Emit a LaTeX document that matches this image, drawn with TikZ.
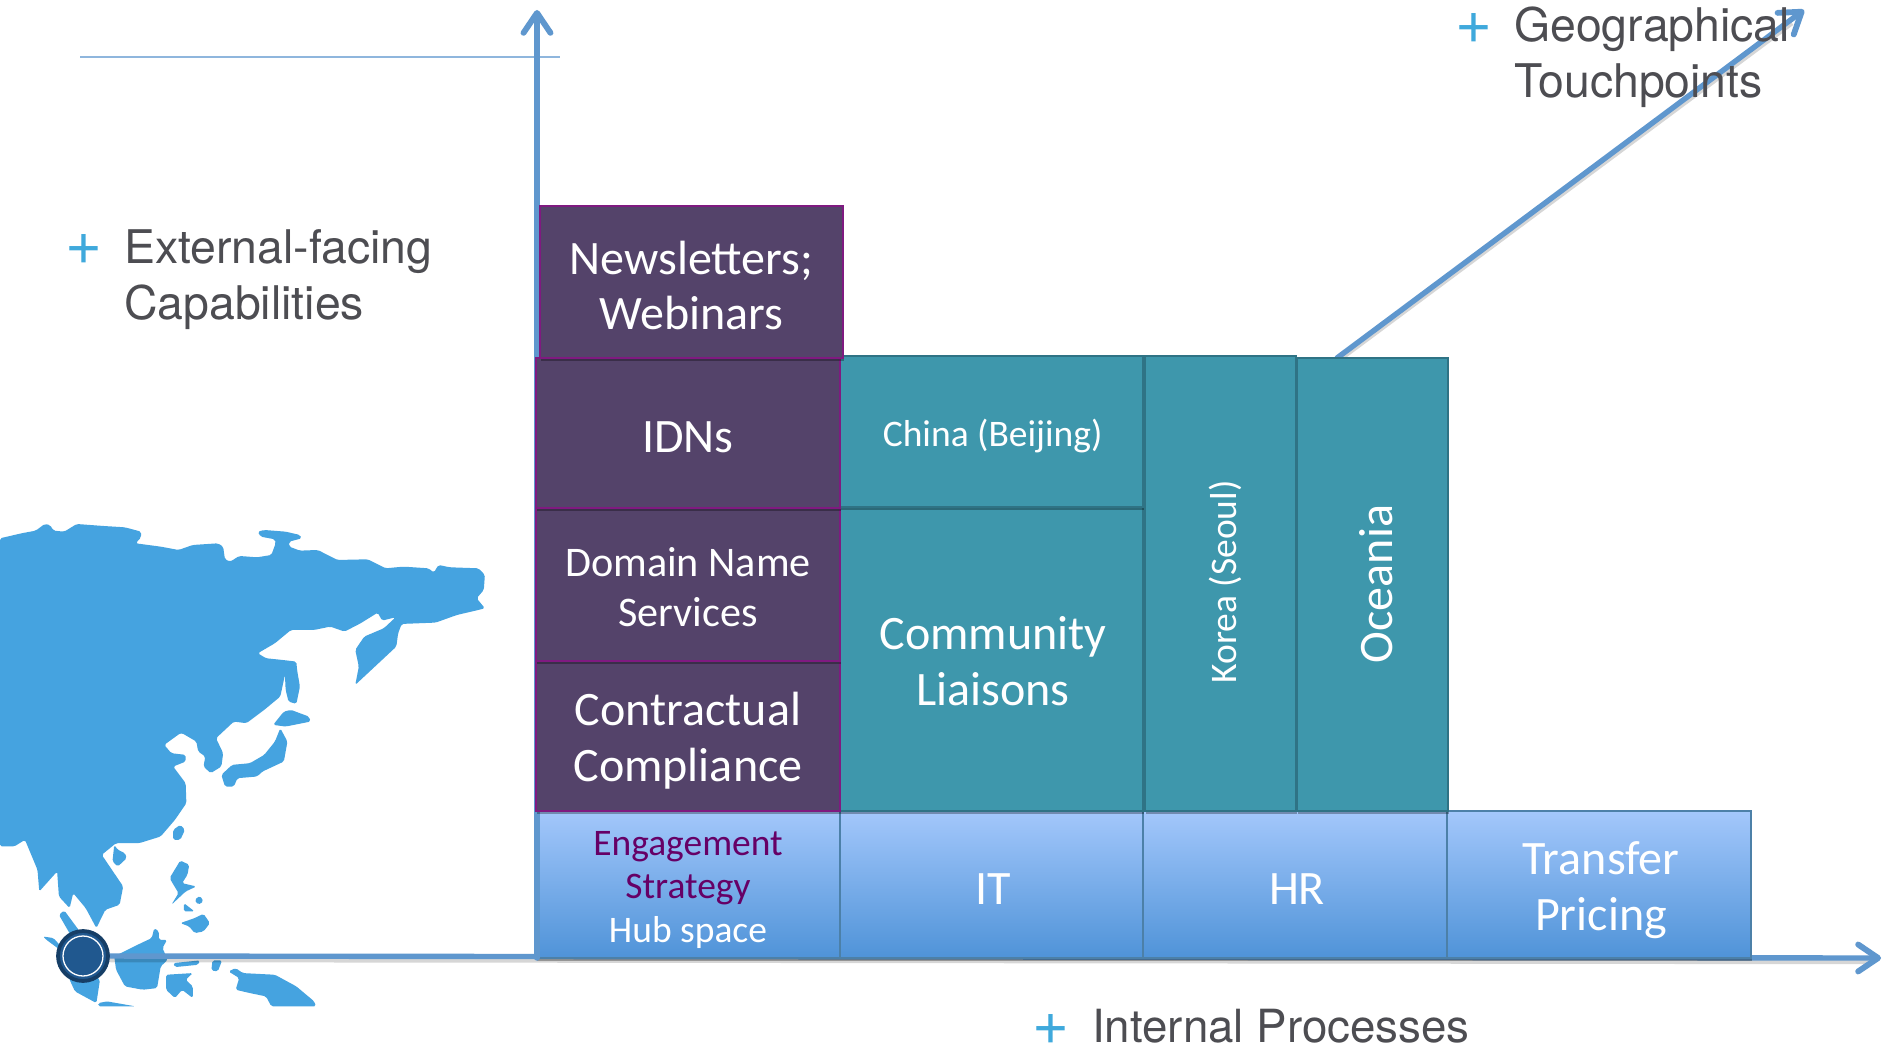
\documentclass[tikz,border=0pt]{standalone}
\usepackage{fontspec}
\setmainfont{Carlito}
\newfontfamily\helv{TeX Gyre Heros}
\usetikzlibrary{arrows.meta,shadows}
\definecolor{mapblue}{HTML}{45A3E0}
\definecolor{axisblue}{HTML}{5F97CE}
\definecolor{plum}{HTML}{54436A}
\definecolor{plumedge}{HTML}{7F1A80}
\definecolor{teal2}{HTML}{3E97AC}
\definecolor{tealedge}{HTML}{2F7385}
\definecolor{gradtop}{HTML}{A3C7FB}
\definecolor{gradbot}{HTML}{4F93D8}
\definecolor{gradedge}{HTML}{4C80A8}
\definecolor{labelgrey}{HTML}{4D4D52}
\definecolor{plusblue}{HTML}{3FA9DC}
\definecolor{hubdark}{HTML}{20588F}
\definecolor{hubring}{HTML}{163E66}
\definecolor{engpurple}{HTML}{660066}
\tikzset{
  cellbox/.style={anchor=north west,inner sep=0pt,outer sep=0pt,
    drop shadow={shadow xshift=1pt,shadow yshift=-2.5pt,opacity=.3,fill=black}},
  plumbox/.style={cellbox,fill=plum,draw=plumedge,line width=1.8pt},
  tealbox/.style={cellbox,fill=teal2,draw=tealedge,line width=1.2pt},
  gradbox/.style={cellbox,top color=gradtop,bottom color=gradbot,draw=gradedge,line width=1.2pt},
  celltext/.style={inner sep=0pt,align=center,text=white},
  big/.style={font=\fontsize{41}{47.6}\selectfont},
  mid/.style={font=\fontsize{36}{43}\selectfont},
  small/.style={font=\fontsize{32}{37}\selectfont},
  axisline/.style={draw=axisblue,line width=4.6pt,line cap=round,-{Straight Barb[length=17pt,width=23pt,line width=5pt,round]}},
  axisshadow/.style={draw=black,opacity=.16,line width=4.6pt},
  glabel/.style={inner sep=0pt,text=labelgrey,align=left,anchor=north west,
    font=\helv\fontsize{39.6}{47.8}\selectfont},
  plusmark/.style={inner sep=0pt,text=plusblue,font=\helv\fontsize{54}{54}\selectfont},
  landmass/.style={fill=mapblue,draw=none,rounded corners=1.5pt},
}
\newcommand{\cell}[8]{\node[#1,minimum width={(#6-#4)*0.03cm},minimum height={(#7-#5)*0.03cm}] (#3) at (#4,#5) {};
  \node[celltext,#2] (#3txt) at ([yshift=-3.8pt]#3.center) {#8};}
\begin{document}
\begin{tikzpicture}[x=0.03cm,y=-0.03cm]
\useasboundingbox (0,0) rectangle (1884,1048);
\fill[white] (0,0) rectangle (1884,1048);
% map
\begin{scope}[shift={(0,500)},x=0.010714cm,y=-0.01cm]
\clip (0,0) rectangle (1600,1520);
\fill[landmass] (0,115)--(60,100)--(100,92)--(125,72)--(140,75)--(150,92)--(180,95)--(215,72)--(290,78)--(350,82)--(395,95)--(395,112)--(380,130)--(450,140)--(500,150)--(540,135)--(610,130)--(625,140)--(630,178)--(645,185)--(670,168)--(720,172)--(760,165)--(772,130)--(770,118)--(730,110)--(722,95)--(740,90)--(800,95)--(840,105)--(845,115)--(810,125)--(810,140)--(840,152)--(890,150)--(945,180)--(1030,178)--(1080,205)--(1130,200)--(1200,205)--(1215,218)--(1228,195)--(1260,202)--(1340,205)--(1358,225)--(1355,270)--(1335,295)--(1358,325)--(1340,330)--(1280,345)--(1220,368)--(1125,372)--(1115,400)--(1110,440)--(1060,490)--(995,555)--(1005,500)--(995,450)--(1020,410)--(1075,385)--(1108,352)--(1070,362)--(1058,338)--(1010,370)--(965,395)--(925,380)--(880,390)--(815,390)--(770,430)--(722,460)--(745,475)--(790,480)--(830,485)--(832,510)--(840,560)--(830,612)--(808,605)--(800,570)--(798,525)--(785,590)--(740,630)--(690,670)--(655,665)--(630,690)--(605,715)--(625,760)--(620,800)--(590,820)--(570,800)--(575,770)--(555,755)--(550,725)--(510,700)--(505,700)--(460,735)--(480,760)--(520,765)--(520,785)--(485,800)--(520,850)--(522,910)--(490,960)--(450,1010)--(390,1030)--(325,1030)--(285,1065)--(345,1160)--(335,1215)--(295,1230)--(270,1285)--(240,1225)--(205,1180)--(195,1225)--(165,1190)--(160,1115)--(110,1175)--(105,1110)--(70,1020)--(40,1040)--(0,1040)--cycle;
\fill[landmass] (765,675)--(795,635)--(815,630)--(865,650)--(870,665)--(800,680)--cycle;
\fill[landmass] (785,685)--(805,725)--(795,785)--(735,815)--(720,830)--(665,835)--(655,860)--(630,860)--(620,825)--(650,795)--(700,790)--(740,765)--(770,725)--cycle;
\fill[landmass] (505,975)--(518,990)--(505,1020)--(485,1020)--(485,990)--cycle;
\fill[landmass] (320,1035)--(330,1050)--(350,1060)--(355,1075)--(330,1100)--(315,1085)--cycle;
\fill[landmass] (505,1082)--(530,1095)--(525,1125)--(510,1150)--(550,1160)--(520,1175)--(480,1215)--(500,1180)--(475,1135)--cycle;
\fill[landmass] (515,1210)--(545,1235)--(515,1235)--cycle;
\fill[landmass] (560,1188)--(570,1205)--(555,1215)--(545,1200)--cycle;
\fill[landmass] (505,1270)--(545,1255)--(570,1242)--(588,1270)--(570,1295)--(545,1300)--(530,1280)--cycle;
\fill[landmass] (165,1245)--(180,1232)--(220,1290)--(235,1320)--(200,1310)--cycle;
\fill[landmass] (120,1310)--(150,1315)--(175,1345)--(195,1440)--(210,1475)--(270,1510)--(280,1440)--(230,1400)--(130,1320)--cycle;
\fill[landmass] (275,1510)--(300,1505)--(380,1520)--(275,1520)--cycle;
\fill[landmass] (320,1370)--(395,1330)--(425,1315)--(432,1285)--(445,1295)--(445,1320)--(468,1320)--(455,1345)--(470,1380)--(450,1400)--(440,1465)--(400,1470)--(350,1460)--(325,1410)--cycle;
\fill[landmass] (465,1425)--(540,1420)--(520,1440)--(540,1460)--(540,1495)--(510,1470)--(490,1495)--(465,1470)--cycle;
\fill[landmass] (485,1390)--(560,1382)--(555,1395)--(490,1402)--cycle;
\fill[landmass] (595,1382)--(622,1382)--(610,1415)--(592,1412)--cycle;
\fill[landmass] (640,1415)--(660,1405)--(680,1420)--(770,1425)--(830,1460)--(880,1505)--(885,1520)--(760,1520)--(745,1490)--(700,1480)--(660,1470)--(670,1435)--cycle;
\end{scope}
% anchors
\coordinate (xend) at (1881,958);
\coordinate (yend) at (537,10);
\coordinate (origin) at (537,958);
\coordinate (diagstart) at (1337,358);
\coordinate (diagend) at (1804,10);
\coordinate (ruleL) at (80,57);
\coordinate (ruleR) at (560,57);
\coordinate (hubc) at (83,956);
\draw[draw=axisblue!70!white,line width=1.8pt] (ruleL) -- (ruleR);
% axes
\draw[axisshadow,transform canvas={yshift=-3pt}] (hubc) -- (1870,958);
\draw[axisline] (hubc) -- (xend);
% gradient row
\cell{gradbox}{big,xshift=1.7pt,yshift=-1pt}{transfer}{1447}{811}{1751}{958}{Transfer\\Pricing}
\cell{gradbox}{big,xshift=1.7pt}{hr}{1143}{811}{1447}{958}{HR}
\cell{gradbox}{big,xshift=1.2pt}{it}{840}{811}{1143}{958}{IT}
\node[gradbox,minimum width={304*0.03cm},minimum height={147*0.03cm}] (engage) at (536,811) {};
\node[celltext,text=engpurple,small] (engtxt) at (688,868) {Engagement\\Strategy};
\node[celltext,small] (hubtxt) at (688,932) {Hub space};
% vertical and diagonal
\draw[axisshadow,transform canvas={xshift=1.5pt,yshift=-1.5pt}] (diagstart) -- (1790,21);
\draw[axisline] (diagstart) -- (diagend);
\draw[axisline] (origin) -- (yend);
% teal
\node[tealbox,minimum width={151*0.03cm},minimum height={453*0.03cm}] (oceania) at (1297,358) {};
\node[tealbox,minimum width={151*0.03cm},minimum height={455*0.03cm}] (korea) at (1145,356) {};
\node[tealbox,minimum width={303*0.03cm},minimum height={304*0.03cm}] (community) at (840,507) {};
\node[celltext,big] (communitytxt) at (993,661) {Community\\Liaisons};
\cell{tealbox}{small,xshift=1pt}{china}{840}{356}{1143}{507}{China (Beijing)}
\node[celltext,rotate=90,small] (koreatxt) at (1225,582) {Korea (Seoul)};
\node[celltext,rotate=90,big] (oceaniatxt) at (1376,584) {Oceania};
% plum
\cell{plumbox}{big}{contract}{536}{661}{840}{811}{Contractual\\Compliance}
\cell{plumbox}{mid,yshift=1.7pt}{domain}{536}{508}{840}{661}{Domain Name\\Services}
\cell{plumbox}{big}{idns}{536}{358}{840}{508}{IDNs}
\cell{plumbox}{big,yshift=.8pt}{news}{540}{206}{843}{358}{Newsletters;\\Webinars}
% hub marker
\node[circle,minimum size=1.5cm,inner sep=0pt,fill=hubdark,draw=hubring,line width=3.2pt] (hub) at (hubc) {};
\draw[white,line width=1.1pt] (hubc) circle (0.6cm);
% labels
\node[plusmark] (plusA) at (84,250) {+};
\node[glabel] (ext) at (124,229) {External-facing\\Capabilities};
\node[plusmark] (plusB) at (1474,29) {+};
\node[glabel] (geo) at (1514,7) {Geographical\\Touchpoints};
\node[plusmark] (plusC) at (1051,1029) {+};
\node[glabel,font=\helv\fontsize{39}{47.8}\selectfont] (int) at (1092,1009) {Internal Processes};
\end{tikzpicture}
\end{document}
